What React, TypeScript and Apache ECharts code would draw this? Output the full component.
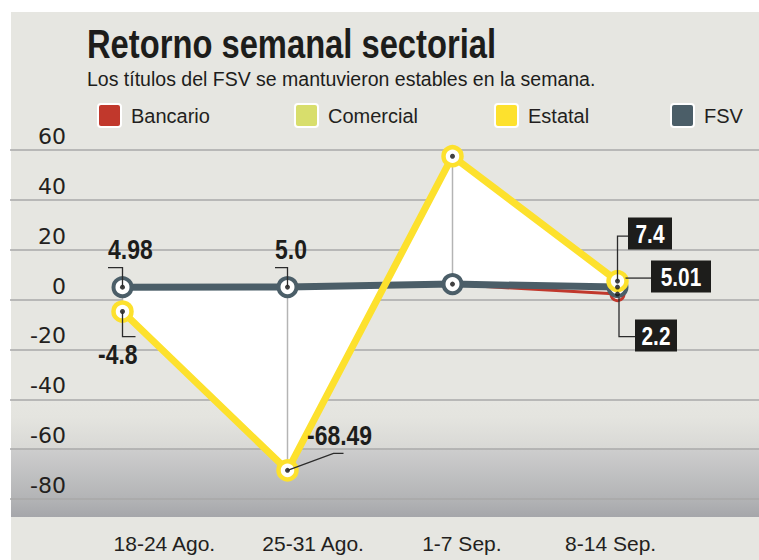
import React, { useEffect, useRef } from "react";
import * as echarts from "echarts";

// ---------- data ----------
const CATEGORIES = ["18-24 Ago.", "25-31 Ago.", "1-7 Sep.", "8-14 Sep."];
const BANCARIO = [5.2, 5.1, 6.0, 2.2];
const COMERCIAL = [5.8, 5.7, 6.9, 4.6];
const ESTATAL = [-4.8, -68.49, 57.5, 7.4];
const FSV = [4.98, 5.0, 6.2, 5.01];
const Y_MIN = -80;
const Y_MAX = 60;
const Y_STEP = 20;

const TITLE = "Retorno semanal sectorial";
const SUBTITLE = "Los títulos del FSV se mantuvieron estables en la semana.";

// annotation texts and which point they describe
const ANNOTATION_TEXT = ["4.98", "5.0", "-4.8", "-68.49", "7.4", "5.01", "2.2"];
const ANNOTATION_TARGET: [string, number][] = [
  ["FSV", 0],
  ["FSV", 1],
  ["Estatal", 0],
  ["Estatal", 1],
  ["Estatal", 3],
  ["FSV", 3],
  ["Bancario", 3],
];

// ---------- styles / layout ----------
const C_BANC = "#c1382c";
const C_COM = "#d8de6c";
const C_EST = "#fde12d";
const C_FSV = "#4b5e68";
const INK = "#1d1d1b";
const SANS = '"Liberation Sans", Arial, sans-serif';

const SERIES_VALUES: Record<string, number[]> = {
  Bancario: BANCARIO,
  Comercial: COMERCIAL,
  Estatal: ESTATAL,
  FSV: FSV,
};

type Layout = {
  tx?: number;
  ty?: number;
  box?: [number, number, number, number];
  leader: number[][];
};
const ANNOTATION_LAYOUT: Layout[] = [
  { tx: -14.5, ty: -37.5, leader: [[-14.5, -19.5], [0, -19.5], [0, 0]] },
  { tx: -12.5, ty: -37.5, leader: [[-12.5, -19.5], [0, -19.5], [0, 0]] },
  { tx: -24.5, ty: 42.5, leader: [[0, 0], [0, 25], [13, 25]] },
  { tx: 19.5, ty: -34.7, leader: [[0, 0], [46, -17], [56, -17]] },
  { box: [10.5, -63.6, 44, 32], leader: [[0, 0], [0, -45], [10.5, -45]] },
  { box: [33.5, -26.5, 60, 32], leader: [[8, -9], [33.5, -9]] },
  { box: [17.5, 25.5, 42, 32], leader: [[1.5, 3.5], [1.5, 42.5], [17.5, 42.5]] },
];

const LEGEND_POS: [string, string, number][] = [
  ["Bancario", C_BANC, 97],
  ["Comercial", C_COM, 294],
  ["Estatal", C_EST, 494],
  ["FSV", C_FSV, 670],
];
const SWATCH = "path://M3,0 H20 Q23,0 23,3 V20 Q23,23 20,23 H3 Q0,23 0,20 V3 Q0,0 3,0 Z";

function buildOption() {
  const gridBox = { top: 150, bottom: 61 };
  const idx = CATEGORIES.map((_, i) => i);

  const fillSeries = {
    type: "custom",
    name: "fill",
    xAxisIndex: 0,
    yAxisIndex: 0,
    silent: true,
    z: 1,
    data: idx.map((i) => [i, ESTATAL[i]]),
    renderItem: (params: any, api: any) => {
      const i = params.dataIndex;
      const children: any[] = [];
      if (i < CATEGORIES.length - 1) {
        const a = api.coord([i, ESTATAL[i]]);
        const b = api.coord([i + 1, ESTATAL[i + 1]]);
        const c = api.coord([i + 1, FSV[i + 1]]);
        const d = api.coord([i, FSV[i]]);
        children.push({
          type: "polygon",
          shape: { points: [a, b, c, d] },
          style: { fill: "#ffffff", stroke: "none" },
        });
      }
      const e = api.coord([i, ESTATAL[i]]);
      const f = api.coord([i, FSV[i]]);
      children.push({
        type: "line",
        shape: { x1: e[0], y1: e[1], x2: f[0], y2: f[1] },
        style: { stroke: "#b4b4b4", lineWidth: 1.5 },
      });
      return { type: "group", children };
    },
  };

  const annotationSeries = {
    type: "custom",
    name: "annotations",
    xAxisIndex: 0,
    yAxisIndex: 0,
    silent: true,
    z: 20,
    data: ANNOTATION_TARGET.map(([s, i]) => [i, SERIES_VALUES[s][i]]),
    renderItem: (params: any, api: any) => {
      const k = params.dataIndex;
      const [s, i] = ANNOTATION_TARGET[k];
      const p = api.coord([i, SERIES_VALUES[s][i]]);
      const L = ANNOTATION_LAYOUT[k];
      const children: any[] = [
        {
          type: "polyline",
          shape: { points: L.leader.map(([dx, dy]) => [p[0] + dx, p[1] + dy]) },
          style: { stroke: "#2b2b2b", lineWidth: 1.3, fill: "none" },
        },
      ];
      if (L.box) {
        const [bx, by, bw, bh] = L.box;
        children.push({
          type: "rect",
          shape: { x: p[0] + bx, y: p[1] + by, width: bw, height: bh },
          style: { fill: INK },
        });
        children.push({
          type: "text",
          x: p[0] + bx + bw / 2,
          y: p[1] + by + bh / 2 + 1,
          scaleX: 0.8,
          style: {
            text: ANNOTATION_TEXT[k],
            fill: "#ffffff",
            font: `bold 26px ${SANS}`,
            align: "center",
            verticalAlign: "middle",
          },
        });
      } else {
        children.push({
          type: "text",
          x: p[0] + (L.tx as number),
          y: p[1] + (L.ty as number),
          scaleX: 0.82,
          style: {
            text: ANNOTATION_TEXT[k],
            fill: INK,
            font: `bold 28px ${SANS}`,
            align: "left",
            verticalAlign: "middle",
          },
        });
      }
      return { type: "group", children };
    },
  };

  const marker = (color: string, size: number, bw: number) => ({
    symbol: "circle",
    symbolSize: size,
    itemStyle: { color: "#ffffff", borderColor: color, borderWidth: bw },
  });

  const dots: number[][] = [];
  idx.forEach((i) => {
    dots.push([i, FSV[i]]);
    dots.push([i, ESTATAL[i]]);
  });
  dots.push([3, BANCARIO[3]]);

  return {
    animation: false,
    backgroundColor: "#ffffff",
    legend: LEGEND_POS.map(([name, color, left]) => ({
      data: [{ name, itemStyle: { color, borderColor: "#ffffff", borderWidth: 2 } }],
      left,
      top: 103,
      padding: 0,
      icon: SWATCH,
      itemWidth: 23,
      itemHeight: 23,
      itemStyle: { borderColor: "#ffffff", borderWidth: 2 },
      textStyle: { fontFamily: SANS, fontSize: 20, color: "#231f20", padding: [0, 0, 2, 5] },
    })),
    graphic: [
      {
        type: "rect",
        z: -10,
        shape: { x: 11, y: 12, width: 748, height: 548 },
        style: { fill: "#e6e6e1" },
      },
      {
        type: "rect",
        z: -9,
        shape: { x: 11, y: 400, width: 748, height: 117 },
        style: {
          fill: {
            type: "linear",
            x: 0,
            y: 0,
            x2: 0,
            y2: 1,
            colorStops: [
              { offset: 0, color: "#e6e6e1" },
              { offset: 0.15, color: "#e4e4df" },
              { offset: 0.42, color: "#d8d8d5" },
              { offset: 0.43, color: "#cdcdcd" },
              { offset: 0.855, color: "#b2b3b5" },
              { offset: 1, color: "#a5a6aa" },
            ],
          },
        },
      },
      {
        type: "text",
        x: 87,
        y: 44,
        scaleX: 0.818,
        style: {
          text: TITLE,
          font: `bold 40px ${SANS}`,
          fill: INK,
          align: "left",
          verticalAlign: "middle",
        },
      },
      {
        type: "text",
        x: 87,
        y: 78.5,
        style: {
          text: SUBTITLE,
          font: `19.5px ${SANS}`,
          fill: INK,
          align: "left",
          verticalAlign: "middle",
        },
      },
    ],
    grid: [
      { left: 40, right: 59, ...gridBox },
      { left: 10, right: 0, ...gridBox },
      { left: 90, right: 74, ...gridBox },
    ],
    xAxis: [
      { gridIndex: 0, type: "category", data: CATEGORIES, boundaryGap: true, show: false },
      { gridIndex: 1, type: "value", show: false },
      {
        gridIndex: 2,
        type: "category",
        data: CATEGORIES,
        boundaryGap: true,
        axisLine: { show: false },
        axisTick: { show: false },
        splitLine: { show: false },
        axisLabel: { fontFamily: SANS, fontSize: 21, color: "#231f20", margin: 34 },
      },
    ],
    yAxis: [
      { gridIndex: 0, type: "value", min: Y_MIN, max: Y_MAX, interval: Y_STEP, show: false },
      {
        gridIndex: 1,
        type: "value",
        min: Y_MIN,
        max: Y_MAX,
        interval: Y_STEP,
        axisLine: { show: false },
        axisTick: { show: false },
        splitLine: { show: true, lineStyle: { color: "#a9a9a9", width: 1.5 } },
        axisLabel: {
          inside: true,
          margin: 56,
          align: "right",
          verticalAlign: "bottom",
          fontFamily: '"DejaVu Sans", sans-serif',
          fontSize: 22,
          lineHeight: 27,
          color: "#231f20",
        },
      },
      { gridIndex: 2, type: "value", min: Y_MIN, max: Y_MAX, show: false },
    ],
    series: [
      fillSeries,
      {
        type: "line",
        name: "Bancario",
        data: BANCARIO,
        z: 3,
        lineStyle: { color: C_BANC, width: 3 },
        ...marker(C_BANC, 13, 3),
      },
      {
        type: "line",
        name: "Comercial",
        data: COMERCIAL,
        z: 3,
        showSymbol: false,
        symbol: "none",
        itemStyle: { color: C_COM },
        lineStyle: { color: C_COM, width: 2 },
      },
      {
        type: "line",
        name: "FSV",
        data: FSV,
        z: 4,
        lineStyle: { color: C_FSV, width: 7 },
        ...marker(C_FSV, 18, 4),
      },
      {
        type: "line",
        name: "Estatal",
        data: ESTATAL,
        z: 5,
        lineStyle: { color: C_EST, width: 7 },
        ...marker(C_EST, 18, 4.5),
      },
      {
        type: "scatter",
        name: "dots",
        data: dots,
        z: 6,
        silent: true,
        symbolSize: 5,
        itemStyle: { color: "#111111" },
      },
      annotationSeries,
    ],
  };
}

export default function App() {
  const ref = useRef<HTMLDivElement>(null);
  useEffect(() => {
    if (!ref.current) return;
    const chart = echarts.init(ref.current, null, { renderer: "svg" });
    chart.setOption(buildOption() as any);
    return () => chart.dispose();
  }, []);
  return (
    <div
      ref={ref}
      style={{ position: "absolute", left: 0, top: 0, width: 759, height: 560 }}
    />
  );
}
